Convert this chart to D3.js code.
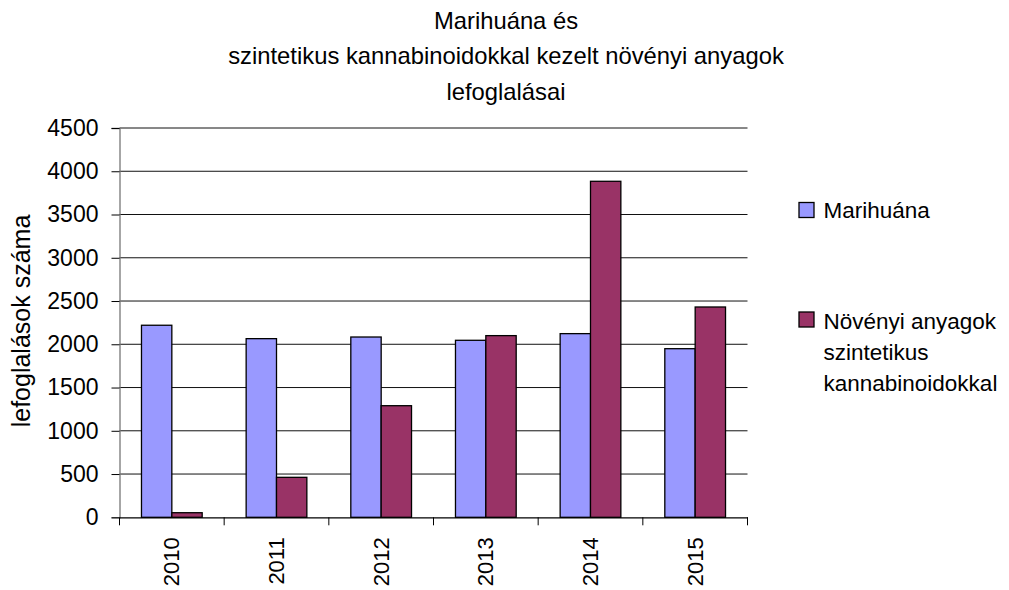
<!DOCTYPE html>
<html>
<head>
<meta charset="utf-8">
<script src="https://cdn.jsdelivr.net/npm/d3@7"></script>
<style>
  body { margin: 0; background: #fff; }
  text { font-family: "Liberation Sans", Arial, sans-serif; fill: #000; }
</style>
</head>
<body>
<div id="chart"></div>
<script>
// data
const years = ["2010", "2011", "2012", "2013", "2014", "2015"];
const marihuana = [2220, 2065, 2084, 2046, 2123, 1949];
const novenyi = [53, 462, 1290, 2100, 3884, 2431];
const seriesNames = ["Marihuána", "Növényi anyagok szintetikus kannabinoidokkal"];
const yTicks = [0, 500, 1000, 1500, 2000, 2500, 3000, 3500, 4000, 4500];
const titleLines = ["Marihuána és", "szintetikus kannabinoidokkal kezelt növényi anyagok", "lefoglalásai"];

const width = 1009, height = 590;
const margin = {left: 119.5, right: 1009 - 747.5, top: 128, bottom: 590 - 517.3};
const colors = ["#9999ff", "#993366"];

const svg = d3.select("#chart").append("svg")
    .attr("width", width)
    .attr("height", height);

const x = d3.scaleBand()
    .domain(years)
    .range([margin.left, width - margin.right]);

const y = d3.scaleLinear()
    .domain([0, 4500])
    .range([height - margin.bottom, margin.top]);

// grid lines
svg.append("g")
    .selectAll("line")
    .data(yTicks.slice(1))
    .enter().append("line")
    .attr("x1", margin.left)
    .attr("x2", width - margin.right)
    .attr("y1", d => y(d))
    .attr("y2", d => y(d))
    .attr("stroke", "#111")
    .attr("stroke-width", 1);

// bars
let bw = x.bandwidth() * 0.29;
let series = [marihuana, novenyi];
series.forEach((vals, s) => {
    svg.append("g")
        .selectAll("rect")
        .data(vals)
        .enter().append("rect")
        .attr("x", (d, i) => x(years[i]) + x.bandwidth() / 2 - bw + s * bw)
        .attr("y", d => y(d))
        .attr("width", bw)
        .attr("height", d => y(0) - y(d))
        .attr("fill", colors[s])
        .attr("stroke", "#000")
        .attr("stroke-width", 1.3);
});

// y axis
let yAxis = svg.append("g")
    .attr("transform", `translate(${margin.left},0)`)
    .call(d3.axisLeft(y).tickValues(yTicks).tickFormat(d3.format("d")).tickSize(8).tickPadding(13));
yAxis.select(".domain").attr("stroke", "#777").attr("stroke-width", 1.3);
yAxis.selectAll(".tick line").attr("stroke", "#000");
yAxis.selectAll("text").style("font-size", "23px").attr("fill", "#000");

// x axis
let xAxis = svg.append("g")
    .attr("transform", `translate(0,${y(0)})`)
    .call(d3.axisBottom(x).tickSize(0).tickFormat(""));
xAxis.select(".domain").attr("stroke", "#000").attr("stroke-width", 1.3);
// tick marks between categories
let edges = years.map(d => x(d)).concat([x(years[years.length - 1]) + x.bandwidth()]);
svg.append("g")
    .selectAll("line")
    .data(edges)
    .enter().append("line")
    .attr("x1", d => d)
    .attr("x2", d => d)
    .attr("y1", y(0))
    .attr("y2", y(0) + 8)
    .attr("stroke", "#000");

svg.append("g")
    .selectAll("text")
    .data(years)
    .enter().append("text")
    .attr("transform", d => `translate(${x(d) + x.bandwidth() / 2 + 7.5},${y(0) + 20}) rotate(-90)`)
    .attr("text-anchor", "end")
    .style("font-size", "22px")
    .text(d => d);

// title
svg.append("g")
    .selectAll("text")
    .data(titleLines)
    .enter().append("text")
    .attr("x", 506)
    .attr("y", (d, i) => 28.5 + i * 35.5)
    .attr("text-anchor", "middle")
    .style("font-size", "23.8px")
    .text(d => d);

// y label
svg.append("text")
    .attr("transform", "translate(30,321) rotate(-90)")
    .attr("text-anchor", "middle")
    .style("font-size", "25px")
    .text("lefoglalások száma");

// legend
let legend = svg.append("g").attr("transform", "translate(799,0)");
legend.append("rect")
    .attr("x", 0).attr("y", 202.5)
    .attr("width", 15).attr("height", 15)
    .attr("fill", colors[0]).attr("stroke", "#000").attr("stroke-width", 1.3);
legend.append("text")
    .attr("x", 24.5).attr("y", 218)
    .style("font-size", "22.5px")
    .text(seriesNames[0]);

legend.append("rect")
    .attr("x", 0).attr("y", 312)
    .attr("width", 15).attr("height", 15)
    .attr("fill", colors[1]).attr("stroke", "#000").attr("stroke-width", 1.3);
let lines2 = ["Növényi anyagok", "szintetikus", "kannabinoidokkal"];
legend.append("text")
    .attr("x", 24.5).attr("y", 329)
    .style("font-size", "22.5px")
    .selectAll("tspan")
    .data(lines2)
    .enter().append("tspan")
    .attr("x", 24.5)
    .attr("dy", (d, i) => i === 0 ? 0 : 31)
    .text(d => d);
</script>
</body>
</html>
